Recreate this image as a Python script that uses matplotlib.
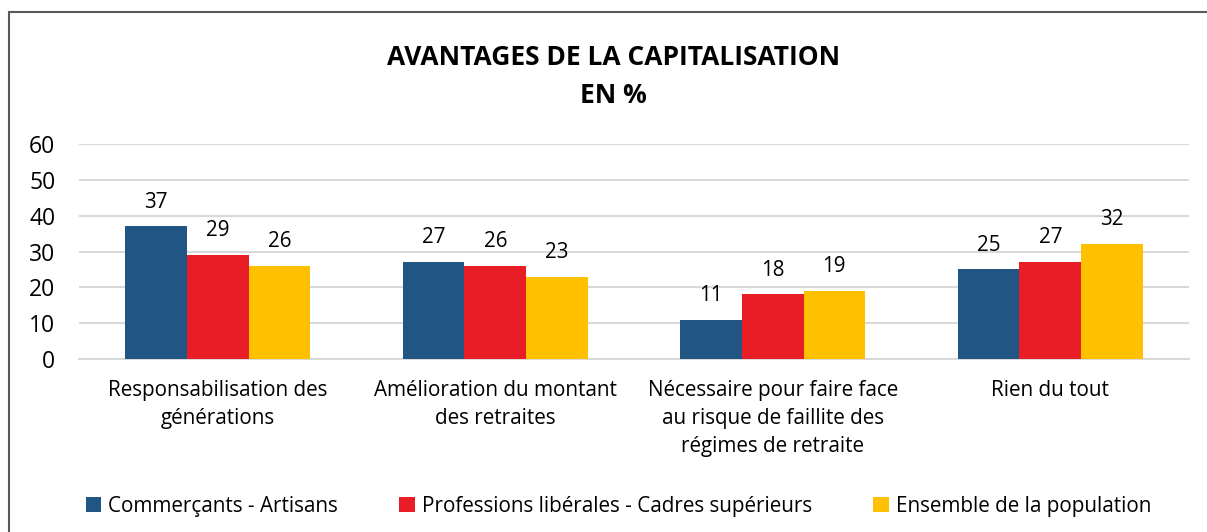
import numpy as np
import matplotlib.pyplot as plt
from matplotlib.patches import Rectangle

categories = ["Responsabilisation des\ngénérations",
              "Amélioration du montant\ndes retraites",
              "Nécessaire pour faire face\nau risque de faillite des\nrégimes de retraite",
              "Rien du tout"]
series_names = ["Commerçants - Artisans",
                "Professions libérales - Cadres supérieurs",
                "Ensemble de la population"]
commercants = [37, 27, 11, 25]
professions = [29, 26, 18, 27]
ensemble = [26, 23, 19, 32]
colors = ["#215584", "#E81D25", "#FFC000"]

plt.rcParams['font.family'] = ['Open Sans', 'DejaVu Sans']
fs = 14.9

fig = plt.figure(figsize=(12.07, 5.32), dpi=100)
ax = fig.add_axes([0.0655, 0.3252, 0.9196, 0.4041])

x = np.arange(len(categories))
w = 0.222
for i, (vals, name) in enumerate(zip([commercants, professions, ensemble], series_names)):
    bars = ax.bar(x + (i - 1) * w, vals, w, color=colors[i], label=name, zorder=3)
    for b, v in zip(bars, vals):
        ax.annotate(str(v), (b.get_x() + b.get_width() / 2, v), xytext=(0, 10),
                    textcoords="offset points", ha="center", va="bottom", fontsize=fs)

ax.set_xlim(-0.5, len(categories) - 0.5)
ax.set_ylim(0, 60)
ax.set_yticks(range(0, 61, 10))
ax.grid(axis="y", color="#d9d9d9", linewidth=1.5, zorder=0)
for s in ["top", "right", "left"]:
    ax.spines[s].set_visible(False)
ax.spines["bottom"].set_color("#d9d9d9")
ax.spines["bottom"].set_linewidth(1.5)
ax.tick_params(axis="both", length=0, labelsize=fs)
ax.tick_params(axis="y", pad=17, labelsize=16.5)
ax.tick_params(axis="x", pad=15)
ax.set_xticks(x)
ax.set_xticklabels(categories, linespacing=1.45)

fig.text(0.508, 0.891, "AVANTAGES DE LA CAPITALISATION", ha="center", va="center",
         fontsize=19, fontweight="bold")
fig.text(0.508, 0.82, "EN %", ha="center", va="center", fontsize=19, fontweight="bold")

fig.legend(loc="center left", bbox_to_anchor=(0.0555, 0.048), ncol=3, frameon=False,
           fontsize=fs, handlelength=0.75, handleheight=0.75, handletextpad=0.35,
           columnspacing=2.95)

fig.patches.append(Rectangle((9 / 1207, -0.1), 1.2, 1.1 - 12 / 532, transform=fig.transFigure,
                             fill=False, edgecolor="#595959", linewidth=1.5))

fig.savefig("out.png", dpi=100)
